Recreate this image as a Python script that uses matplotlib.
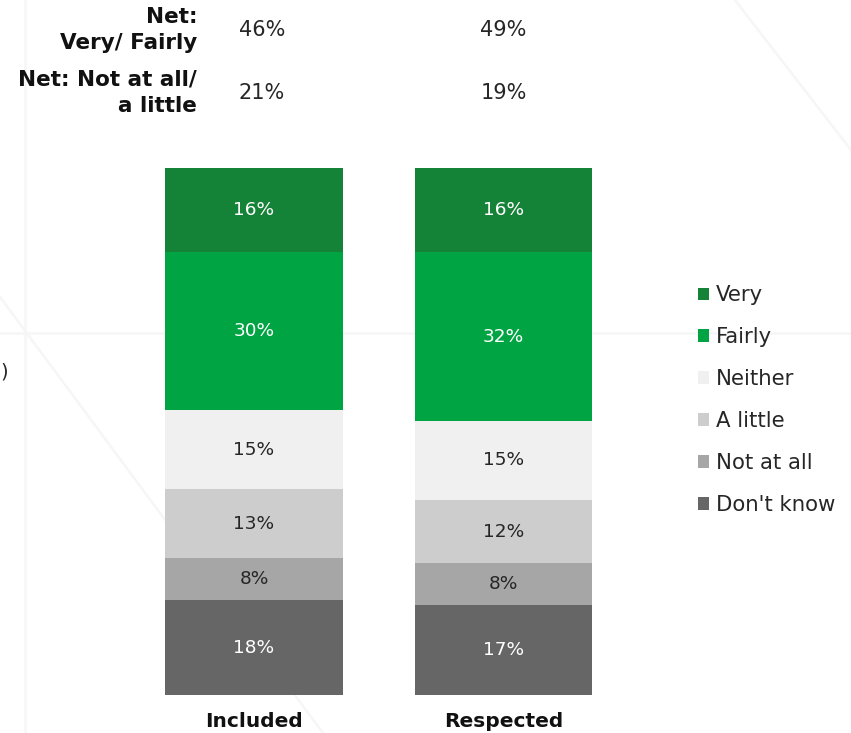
import matplotlib.pyplot as plt

plt.rcParams['font.family'] = ['DejaVu Sans']

categories = ["Included", "Respected"]
series_names = ["Don't know", "Not at all", "A little", "Neither", "Fairly", "Very"]
series_values = {
    "Don't know": [18, 17],
    "Not at all": [8, 8],
    "A little": [13, 12],
    "Neither": [15, 15],
    "Fairly": [30, 32],
    "Very": [16, 16],
}
net_labels = ["Net:\nVery/ Fairly", "Net: Not at all/\na little"]
net_values = [[46, 49], [21, 19]]

colors = {
    "Very": "#158337",
    "Fairly": "#00a443",
    "Neither": "#f0f0f0",
    "A little": "#cdcdcd",
    "Not at all": "#a6a6a6",
    "Don't know": "#666666",
}
text_colors = {
    "Very": "white", "Fairly": "white", "Neither": "#262626",
    "A little": "#262626", "Not at all": "#262626", "Don't know": "white",
}

W, H = 851, 733
fig = plt.figure(figsize=(W / 100, H / 100), dpi=100)

# faint decorative background lines
bg = fig.add_axes([0, 0, 1, 1], zorder=0)
bg.set_xlim(0, W)
bg.set_ylim(H, 0)
bg.axis("off")
lc = "#f6f6f6"
bg.plot([25, 25], [0, H], color=lc, lw=1.8)
bg.plot([0, W], [333, 333], color=lc, lw=1.8)
bg.plot([0, 323], [297, H], color=lc, lw=1.8)
bg.plot([735, 851], [0, 150], color=lc, lw=1.8)
bg.text(0, 372, ")", fontsize=14, color="#262626", va="center", ha="left")

ax = fig.add_axes([129.25 / W, 38 / H, 499 / W, 527 / H], zorder=1)
ax.set_xlim(-0.5, 1.5)
ax.set_ylim(0, 100)
ax.axis("off")
ax.patch.set_alpha(0)

x = list(range(len(categories)))
bottoms = [0] * len(categories)
handles = {}
for name in series_names:
    vals = series_values[name]
    bars = ax.bar(x, vals, bottom=bottoms, width=0.713, color=colors[name], label=name)
    handles[name] = bars
    for xi, v, b in zip(x, vals, bottoms):
        ax.text(xi, b + v / 2, f"{v}%", ha="center", va="center",
                fontsize=13.3, color=text_colors[name])
    bottoms = [b + v for b, v in zip(bottoms, vals)]

for xi, cat in zip(x, categories):
    ax.text(xi, -3.2, cat, ha="center", va="top", fontsize=14.5,
            fontweight="bold", color="#111111", clip_on=False)

# net rows above the chart
net_y = [30, 93]
for lab, vals, yy in zip(net_labels, net_values, net_y):
    fig.text(197 / W, 1 - yy / H, lab, ha="right", va="center", fontsize=15.5,
             fontweight="bold", color="#111111", linespacing=1.42)
    for xi, v in zip(x, vals):
        px = 129.25 + (xi + 0.5) * 249.5 + (8 if xi == 0 else 0)
        fig.text(px / W, 1 - yy / H, f"{v}%", ha="center", va="center",
                 fontsize=15, color="#262626")

leg_order = ["Very", "Fairly", "Neither", "A little", "Not at all", "Don't know"]
leg = fig.legend([handles[n] for n in leg_order], leg_order,
                 loc="upper left", bbox_to_anchor=(689 / W, 1 - 277 / H),
                 frameon=False, fontsize=15.3, handlelength=0.55, handleheight=0.55,
                 handletextpad=0.3, labelspacing=1.03, borderaxespad=0)
for t in leg.get_texts():
    t.set_color("#262626")

fig.savefig("out.png", dpi=100)
